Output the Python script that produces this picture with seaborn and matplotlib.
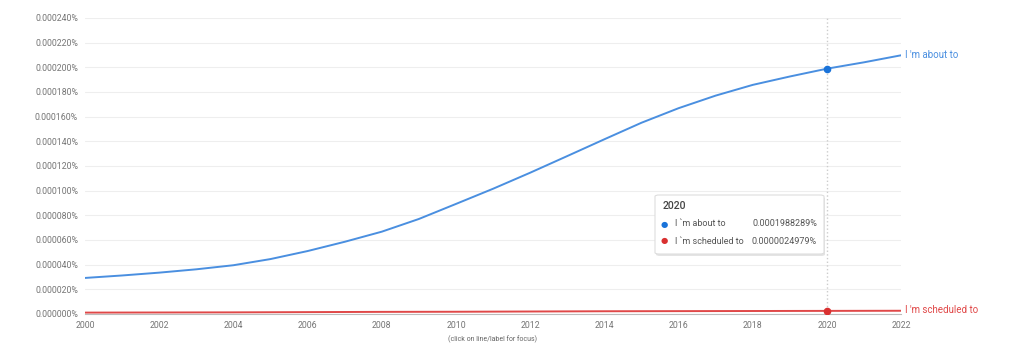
import matplotlib
matplotlib.use('Agg')
import matplotlib.pyplot as plt
from matplotlib.patches import FancyBboxPatch
import seaborn as sns
import pandas as pd

# values are already in percent (as shown on the y axis)
years = list(range(2000, 2023))
about_to = [2.92e-5, 3.12e-5, 3.35e-5, 3.62e-5, 3.95e-5, 4.45e-5, 5.10e-5, 5.85e-5,
            6.67e-5, 7.70e-5, 8.92e-5, 1.015e-4, 1.145e-4, 1.28e-4, 1.416e-4,
            1.55e-4, 1.668e-4, 1.77e-4, 1.857e-4, 1.925e-4, 1.988289e-4, 2.04e-4,
            2.097e-4]
scheduled_to = [1.1e-6, 1.15e-6, 1.2e-6, 1.25e-6, 1.3e-6, 1.4e-6, 1.5e-6, 1.6e-6,
                1.7e-6, 1.75e-6, 1.8e-6, 1.9e-6, 2.0e-6, 2.1e-6, 2.2e-6, 2.25e-6,
                2.3e-6, 2.35e-6, 2.4e-6, 2.45e-6, 2.4979e-6, 2.55e-6, 2.6e-6]
series_names = ["I 'm about to", "I 'm scheduled to"]
tooltip_names = ["I `m about to", "I `m scheduled to"]
tooltip_values = ["0.0001988289%", "0.0000024979%"]
focus_year = 2020
y_ticks = [i * 2e-5 for i in range(13)]
x_ticks = list(range(2000, 2023, 2))

blue = '#4a8fe0'
red = '#e04848'
grey = '#757575'

df = pd.DataFrame({
    'year': years * 2,
    'value': about_to + scheduled_to,
    'phrase': [series_names[0]] * len(years) + [series_names[1]] * len(years),
})

sns.set_theme(style='white')
plt.rcParams['font.family'] = ['Roboto', 'DejaVu Sans']

fig = plt.figure(figsize=(10.24, 3.58), dpi=100)
ax = fig.add_axes([0.083, 0.123, 0.797, 0.827])

sns.lineplot(data=df, x='year', y='value', hue='phrase',
             palette=[blue, red], linewidth=1.4, legend=False, ax=ax)

ax.set_xlim(2000, 2022)
ax.set_ylim(0, 2.4e-4)
ax.set_xticks(x_ticks)
ax.set_yticks(y_ticks)
ax.set_yticklabels(['%.6f%%' % v for v in y_ticks])
ax.set_xlabel('')
ax.set_ylabel('')
ax.tick_params(axis='both', labelsize=6.3, colors=grey, length=3, width=0.6)
ax.tick_params(axis='y', length=4, pad=1)
ax.tick_params(axis='x', pad=2)
for lbl in ax.get_xticklabels() + ax.get_yticklabels():
    lbl.set_color(grey)
ax.grid(axis='y', color='#eeeeee', linewidth=0.8)
ax.set_axisbelow(True)
for side in ['top', 'right', 'left']:
    ax.spines[side].set_visible(False)
ax.spines['bottom'].set_color('#bbbbbb')
ax.spines['bottom'].set_linewidth(0.8)

# focus line and points
ax.axvline(focus_year, color='#cccccc', linestyle=':', linewidth=1)
i = years.index(focus_year)
ax.scatter([focus_year], [about_to[i]], color='#1a73d9', s=20, zorder=5)
ax.scatter([focus_year], [scheduled_to[i]], color='#d93030', s=20, zorder=5)

# end labels
ax.text(2022.1, about_to[-1] + 0.2e-6, series_names[0], color=blue, fontsize=7,
        va='center', ha='left', clip_on=False)
ax.text(2022.1, scheduled_to[-1] + 1.0e-6, series_names[1], color=red, fontsize=7,
        va='center', ha='left', clip_on=False)

# tooltip box
box = FancyBboxPatch((655 / 1024, 1 - 254 / 358), 169 / 1024, 59 / 358,
                     boxstyle='round,pad=0,rounding_size=0.004',
                     transform=fig.transFigure, facecolor='white',
                     edgecolor='#dddddd', linewidth=0.8, zorder=10)
shadow = FancyBboxPatch((656 / 1024, 1 - 256 / 358), 169 / 1024, 59 / 358,
                        boxstyle='round,pad=0,rounding_size=0.004',
                        transform=fig.transFigure, facecolor='#e4e4e4',
                        edgecolor='none', zorder=9)
fig.add_artist(shadow)
fig.add_artist(box)
fig.text(663 / 1024, 1 - 206 / 358, str(focus_year), fontsize=7.5, color='#444444',
         fontweight='medium', va='center', zorder=11)
for row, (name, val, col) in enumerate(zip(tooltip_names, tooltip_values,
                                           ['#1a73d9', '#d93030'])):
    yy = 1 - (224 + row * 17) / 358
    fig.text(664 / 1024, yy, '\u25cf', fontsize=6, color=col, va='center',
             ha='center', zorder=11, family='DejaVu Sans')
    fig.text(675 / 1024, yy, name, fontsize=6.5, color='#555555', va='center',
             zorder=11)
    fig.text(817 / 1024, yy, val, fontsize=6.5, color='#555555', va='center',
             ha='right', zorder=11)

fig.text(493 / 1024, 1 - 339 / 358, '(click on line/label for focus)', fontsize=5,
         color='#666666', ha='center', va='center')

fig.savefig('out.png', dpi=100)
